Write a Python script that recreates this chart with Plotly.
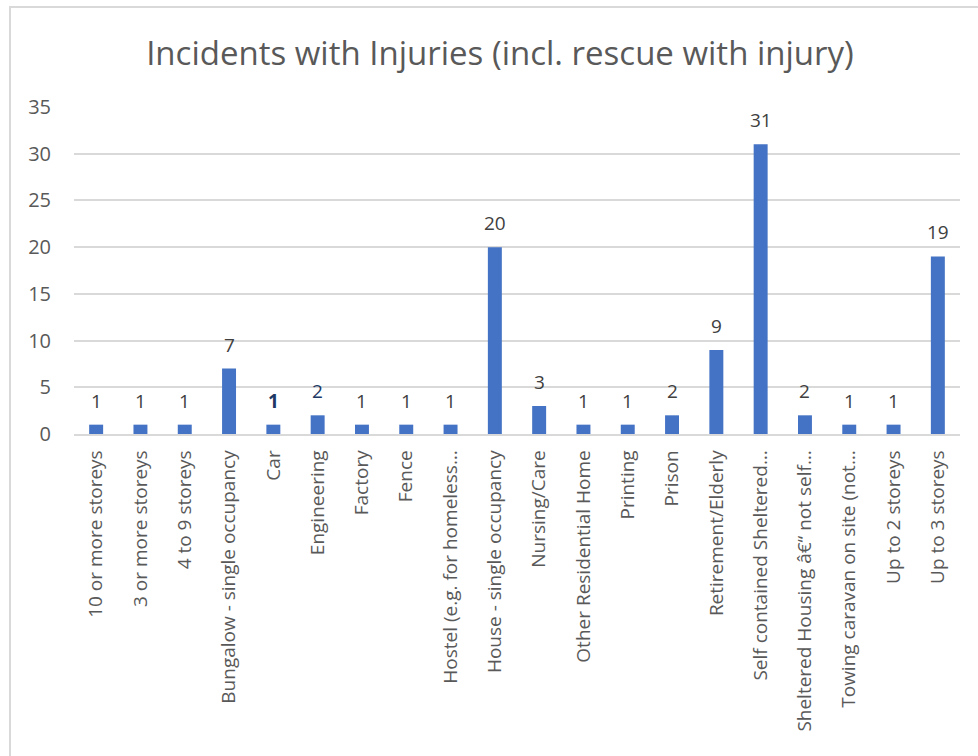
import plotly.graph_objects as go

categories = [
    "10 or more storeys",
    "3 or more storeys",
    "4 to 9 storeys",
    "Bungalow - single occupancy",
    "Car",
    "Engineering",
    "Factory",
    "Fence",
    "Hostel (e.g. for homeless\u2026",
    "House - single occupancy",
    "Nursing/Care",
    "Other Residential Home",
    "Printing",
    "Prison",
    "Retirement/Elderly",
    "Self contained Sheltered\u2026",
    "Sheltered Housing \u00e2\u20ac\u201c not self\u2026",
    "Towing caravan on site (not\u2026",
    "Up to 2 storeys",
    "Up to 3 storeys",
]
incidents = [1, 1, 1, 7, 1, 2, 1, 1, 1, 20, 3, 1, 1, 2, 9, 31, 2, 1, 1, 19]
y_ticks = [0, 5, 10, 15, 20, 25, 30, 35]

FONT = "Open Sans, Noto Sans, sans-serif"
W, H = 978, 756
ML, MR, MT, MB = 74, 18, 107, 322
plot_w = W - ML - MR
plot_h = H - MT - MB

fig = go.Figure(
    go.Bar(
        x=categories,
        y=incidents,
        marker=dict(color="#4472C4", line=dict(width=0)),
        cliponaxis=False,
        hoverinfo="x+y",
    )
)

# a couple of value labels carry their own formatting
label_style = {
    "Car": ("#203864", True),
    "Engineering": ("#203864", False),
}

# value labels sitting above each bar
for cat, val in zip(categories, incidents):
    color, bold = label_style.get(cat, ("#404040", False))
    fig.add_annotation(
        x=cat, y=val, xref="x", yref="y",
        text=f"<b>{val}</b>" if bold else str(val),
        showarrow=False,
        yanchor="middle", yshift=24,
        font=dict(family=FONT, size=19, color=color),
    )

# chart frame (top and left edges visible in the window)
fx0 = (10 - ML) / plot_w
fx1 = (W + 20 - ML) / plot_w
fy1 = (H - MB - 7) / plot_h
fy0 = (H - MB - (H + 20)) / plot_h
fig.add_shape(
    type="rect", xref="paper", yref="paper",
    x0=fx0, x1=fx1, y0=fy0, y1=fy1,
    line=dict(color="#D9D9D9", width=2), fillcolor="rgba(0,0,0,0)", layer="below",
)

fig.update_layout(
    width=W,
    height=H,
    margin=dict(l=ML, r=MR, t=MT, b=MB, pad=0),
    paper_bgcolor="white",
    plot_bgcolor="white",
    bargap=0.685,
    showlegend=False,
    title=dict(
        text="Incidents with Injuries (incl. rescue with injury)",
        x=500 / W, xanchor="center", xref="container",
        y=1 - 53 / H, yanchor="middle", yref="container",
        font=dict(family=FONT, size=33, color="#595959"),
    ),
    font=dict(family=FONT, color="#595959"),
    xaxis=dict(
        type="category",
        tickangle=-90,
        tickfont=dict(size=19, color="#595959"),
        showgrid=False,
        showline=True,
        linecolor="#D9D9D9",
        linewidth=1.5,
        ticks="",
        ticklabelstandoff=7,
    ),
    yaxis=dict(
        range=[0, 35],
        tickvals=y_ticks,
        tickfont=dict(size=20, color="#595959"),
        showgrid=True,
        gridcolor="#D9D9D9",
        gridwidth=1.5,
        zeroline=False,
        showline=False,
        ticks="",
        ticklabelstandoff=22,
    ),
)

fig.write_html("out.html")
